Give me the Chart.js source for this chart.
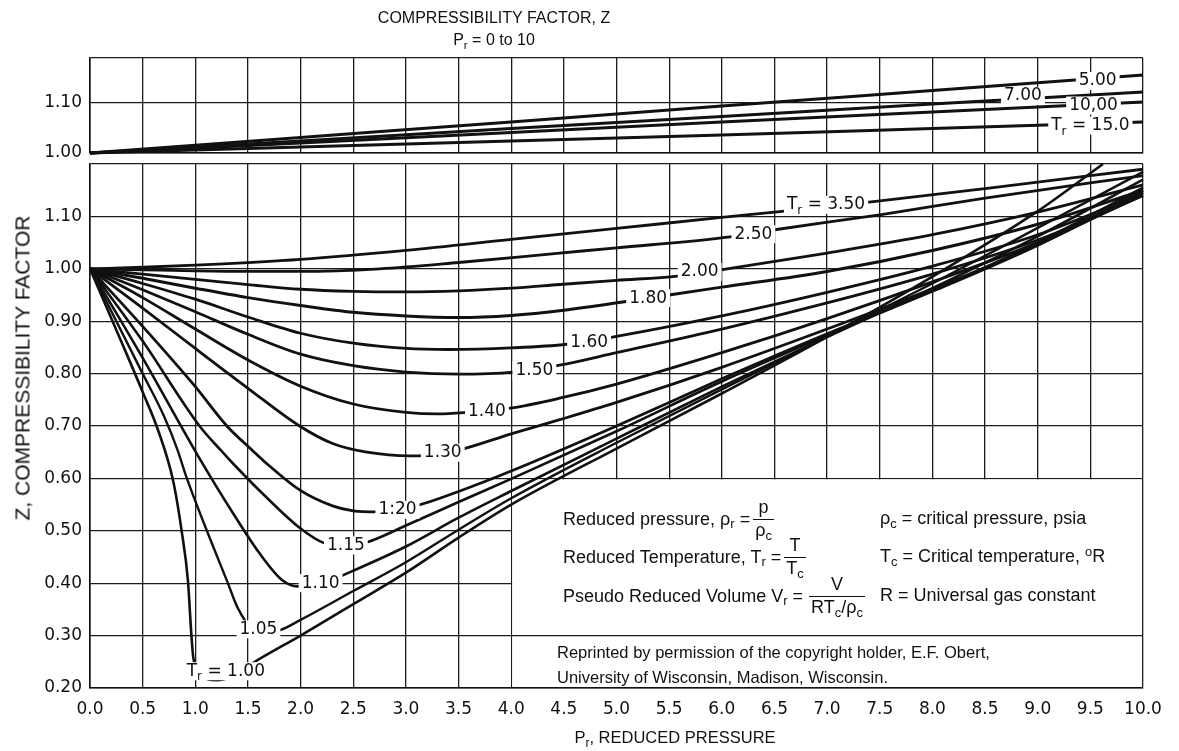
<!DOCTYPE html>
<html>
<head>
<meta charset="utf-8">
<script src="https://cdn.jsdelivr.net/npm/chart.js@4.4.1/dist/chart.umd.min.js"></script>
<style>
html,body{margin:0;padding:0;background:#fff}
body{width:1179px;height:751px;position:relative;overflow:hidden;font-family:'Liberation Sans',Arial,sans-serif;color:#111}
canvas{position:absolute;left:0}
.txt{position:absolute;white-space:nowrap;line-height:1}
.sub{font-size:0.72em;position:relative;top:0.32em}
.sup{font-size:0.72em;position:relative;top:-0.45em}
.row{position:absolute;height:44px;display:flex;align-items:center;white-space:nowrap;font-size:18px}
.frac{display:inline-flex;flex-direction:column;align-items:center;line-height:1.1;margin-left:3px}
.frac .num{padding:0 2px 1px}
.frac .den{border-top:1.3px solid #111;padding:1px 2px 0}
</style>
</head>
<body>
<canvas id="topChart" width="1179" height="170" style="top:0"></canvas>
<canvas id="mainChart" width="1179" height="599" style="top:152px"></canvas>

<div class="txt" style="left:494px;top:10px;transform:translateX(-50%);font-size:16px">COMPRESSIBILITY FACTOR, Z</div>
<div class="txt" style="left:494px;top:32px;transform:translateX(-50%);font-size:16px">P<span class="sub">r</span> = 0 to 10</div>
<div class="txt" style="left:22px;top:368px;transform:translate(-50%,-50%) rotate(-90deg);font-size:21px">Z, COMPRESSIBILITY FACTOR</div>
<div class="txt" style="left:675px;top:729px;transform:translateX(-50%);font-size:16.5px">P<span class="sub">r</span>, REDUCED PRESSURE</div>

<div class="row" style="left:563px;top:497px">Reduced pressure, ρ<span class="sub">r</span>&nbsp;=<span class="frac"><span class="num">p</span><span class="den">ρ<span class="sub">c</span></span></span></div>
<div class="row" style="left:563px;top:535px">Reduced Temperature, T<span class="sub">r</span>&nbsp;=<span class="frac"><span class="num">T</span><span class="den">T<span class="sub">c</span></span></span></div>
<div class="row" style="left:563px;top:574px">Pseudo Reduced Volume V<span class="sub">r</span>&nbsp;=<span class="frac" style="margin-left:6px"><span class="num">V</span><span class="den">RT<span class="sub">c</span>/ρ<span class="sub">c</span></span></span></div>
<div class="txt" style="left:880px;top:509px;font-size:18px">ρ<span class="sub">c</span> = critical pressure, psia</div>
<div class="txt" style="left:880px;top:547px;font-size:18px">T<span class="sub">c</span> = Critical temperature, <span class="sup">o</span>R</div>
<div class="txt" style="left:880px;top:586px;font-size:18px">R = Universal gas constant</div>
<div class="txt" style="left:557px;top:644px;font-size:16.5px">Reprinted by permission of the copyright holder, E.F. Obert,</div>
<div class="txt" style="left:557px;top:669px;font-size:16.5px">University of Wisconsin, Madison, Wisconsin.</div>

<script>
// ---------- tick values / labels ----------
const xTickVals = [0.0,0.5,1.0,1.5,2.0,2.5,3.0,3.5,4.0,4.5,5.0,5.5,6.0,6.5,7.0,7.5,8.0,8.5,9.0,9.5,10.0];
const xTickLabels = ['0.0','0.5','1.0','1.5','2.0','2.5','3.0','3.5','4.0','4.5','5.0','5.5','6.0','6.5','7.0','7.5','8.0','8.5','9.0','9.5','10.0'];
const yTickValsTop = [1.00,1.10,1.19];
const yTickLabelsTop = ['1.00','1.10',''];
const yTickValsMain = [0.2,0.3,0.4,0.5,0.6,0.7,0.8,0.9,1.0,1.1,1.2];
const yTickLabelsMain = ['0.20','0.30','0.40','0.50','0.60','0.70','0.80','0.90','1.00','1.10',''];

// ---------- top panel series  [Pr, Z] ----------
const tr5_00  = [[0,1.000],[2,1.031],[4,1.062],[6,1.094],[8,1.125],[10,1.156]];
const tr7_00  = [[0,1.000],[2,1.024],[4,1.049],[6,1.073],[8,1.098],[10,1.122]];
const tr10_00 = [[0,1.000],[2,1.020],[4,1.041],[6,1.062],[8,1.082],[10,1.102]];
const tr15_0  = [[0,1.000],[2,1.012],[4,1.024],[6,1.036],[8,1.049],[10,1.062]];

// ---------- main panel series  [Pr, Z] ----------
const tr3_50 = [[0,1.000],[0.5,1.003],[1,1.007],[2,1.018],[3,1.035],[4,1.056],[5,1.077],[6,1.098],[6.55,1.109],[7.44,1.128],[8.5,1.153],[10,1.190]];
const tr2_50 = [[0,1.000],[0.5,0.998],[1,0.996],[1.5,0.995],[2,0.995],[2.75,1.000],[3.5,1.012],[4.46,1.030],[5,1.040],[6.08,1.061],[6.52,1.075],[7.5,1.103],[8.5,1.135],[10,1.178]];
const tr2_00 = [[0,1.000],[0.5,0.990],[1,0.980],[1.5,0.970],[2,0.961],[2.5,0.957],[3,0.956],[3.5,0.958],[4,0.963],[4.46,0.970],[5,0.978],[5.58,0.986],[6.05,1.000],[7,1.030],[8,1.065],[9,1.108],[10,1.160]];
const tr1_80 = [[0,1.000],[0.5,0.982],[1,0.963],[1.5,0.945],[2,0.930],[2.5,0.917],[3,0.910],[3.5,0.907],[4,0.911],[4.5,0.921],[5.1,0.938],[5.53,0.951],[6,0.965],[7,0.995],[8,1.035],[9,1.085],[10,1.150]];
const tr1_60 = [[0,1.000],[0.5,0.972],[1,0.942],[1.5,0.908],[2,0.877],[2.5,0.858],[3,0.848],[3.4,0.846],[4,0.849],[4.53,0.856],[5,0.871],[6,0.910],[7,0.955],[8,1.005],[9,1.065],[10,1.145]];
const tr1_50 = [[0,1.000],[0.5,0.960],[1,0.918],[1.5,0.875],[2,0.837],[2.5,0.815],[3,0.803],[3.5,0.799],[4.02,0.803],[4.46,0.816],[5,0.840],[6,0.885],[7,0.935],[8,0.990],[9,1.055],[10,1.140]];
const tr1_40 = [[0,1.000],[0.5,0.945],[1,0.885],[1.5,0.826],[2,0.776],[2.5,0.742],[3,0.726],[3.3,0.723],[3.58,0.726],[3.99,0.734],[4.46,0.753],[5,0.780],[6,0.840],[7,0.905],[8,0.975],[9,1.050],[10,1.140]];
const tr1_30 = [[0,1.000],[0.5,0.925],[1,0.848],[1.5,0.772],[1.99,0.700],[2.31,0.666],[2.63,0.650],[3.04,0.643],[3.3,0.646],[3.54,0.656],[4,0.685],[4.46,0.712],[5,0.745],[6,0.812],[7,0.885],[8,0.962],[9,1.045],[10,1.145]];
const tr1_20 = [[0,1.000],[0.5,0.890],[1,0.775],[1.3,0.700],[1.55,0.652],[1.68,0.628],[1.99,0.578],[2.31,0.547],[2.5,0.538],[2.72,0.536],[3.1,0.548],[3.5,0.575],[4,0.614],[5,0.700],[6,0.790],[7,0.876],[8,0.957],[9,1.045],[10,1.150]];
const tr1_15 = [[0,1.000],[0.5,0.862],[1.04,0.700],[1.25,0.652],[1.36,0.628],[1.68,0.563],[1.99,0.506],[2.23,0.476],[2.45,0.470],[2.63,0.478],[3,0.510],[3.5,0.555],[4,0.599],[5,0.690],[6,0.785],[7,0.873],[8,0.958],[9,1.050],[10,1.155]];
const tr1_10 = [[0,1.000],[0.5,0.830],[0.85,0.705],[1.02,0.645],[1.36,0.533],[1.61,0.457],[1.83,0.405],[1.97,0.394],[2.2,0.398],[2.4,0.415],[3,0.470],[3.5,0.525],[4,0.576],[5,0.676],[6,0.775],[7,0.870],[8,0.963],[9,1.062],[10,1.170]];
const tr1_05 = [[0,1.000],[0.5,0.800],[0.7,0.720],[0.83,0.655],[0.92,0.600],[1.11,0.500],[1.30,0.405],[1.41,0.350],[1.6,0.305],[1.8,0.310],[2,0.330],[2.5,0.385],[3,0.440],[3.5,0.502],[4,0.562],[5,0.668],[6,0.770],[7,0.870],[8,0.972],[9,1.078],[10,1.185]];
const tr1_00 = [[0,1.000],[0.3,0.860],[0.5,0.765],[0.65,0.690],[0.79,0.595],[0.87,0.500],[0.93,0.405],[0.96,0.310],[0.98,0.260],[1.05,0.225],[1.2,0.215],[1.35,0.222],[1.59,0.253],[2,0.300],[2.5,0.360],[3,0.420],[3.5,0.487],[4,0.550],[5,0.657],[6,0.762],[7,0.870],[8,0.985],[9,1.110],[9.62,1.200]];

// ---------- curve labels (text anchored at Pr, Z) ----------
const topLabels = [
  {text:'5.00', pr:9.57, z:1.144},
  {text:'7.00', pr:8.86, z:1.114},
  {text:'10,00', pr:9.53, z:1.095},
  {text:'T_r = 15.0', pr:9.50, z:1.055}
];
const mainLabels = [
  {text:'T_r = 3.50', pr:6.99, z:1.122},
  {text:'2.50', pr:6.30, z:1.066},
  {text:'2.00', pr:5.79, z:0.994},
  {text:'1.80', pr:5.30, z:0.944},
  {text:'1.60', pr:4.74, z:0.860},
  {text:'1.50', pr:4.22, z:0.806},
  {text:'1.40', pr:3.77, z:0.728},
  {text:'1.30', pr:3.35, z:0.649},
  {text:'1:20', pr:2.92, z:0.540},
  {text:'1.15', pr:2.43, z:0.472},
  {text:'1.10', pr:2.19, z:0.400},
  {text:'1.05', pr:1.60, z:0.312},
  {text:'T_r = 1.00', pr:1.29, z:0.232}
];
// info box region (data units)
const boxPr = [4.0, 10.0];
const boxZ = [0.2, 0.6];
const boxLineZ = 0.3;

// ---------- helpers ----------
const INK = '#111';
const GRID = '#1c1c1c';
function toPts(a){ return a.map(p => ({x:p[0], y:p[1]})); }
function ds(a, w){ return {data: toPts(a), borderColor: INK, borderWidth: w, pointRadius: 0, fill: false, cubicInterpolationMode: 'monotone', clip: 2}; }

function parseLabel(t){
  const segs = []; let i = 0, cur = '';
  while (i < t.length){
    if (t[i] === '_'){ if (cur) segs.push({t:cur, sub:false}); cur=''; segs.push({t:t[i+1], sub:true}); i += 2; }
    else { cur += t[i]; i++; }
  }
  if (cur) segs.push({t:cur, sub:false});
  return segs;
}

const curveLabels = {
  id: 'curveLabels',
  afterDatasetsDraw(chart, args, opts){
    const {ctx} = chart; const x = chart.scales.x, y = chart.scales.y;
    ctx.save();
    const mainFont = '17px "DejaVu Sans"', subFont = '12px "DejaVu Sans"';
    for (const L of opts.items){
      const px = x.getPixelForValue(L.pr), py = y.getPixelForValue(L.z);
      const segs = parseLabel(L.text);
      let w = 0;
      for (const s of segs){ ctx.font = s.sub ? subFont : mainFont; s.w = ctx.measureText(s.t).width; w += s.w; }
      ctx.fillStyle = '#fff';
      ctx.fillRect(px - w/2 - 3, py - 9, w + 6, 18);
      let cx = px - w/2;
      ctx.fillStyle = INK; ctx.textBaseline = 'middle'; ctx.textAlign = 'left';
      for (const s of segs){ ctx.font = s.sub ? subFont : mainFont; ctx.fillText(s.t, cx, s.sub ? py + 6 : py); cx += s.w; }
    }
    ctx.restore();
  }
};

const infoBox = {
  id: 'infoBox',
  beforeDatasetsDraw(chart, args, opts){
    if (!opts.enabled) return;
    const {ctx} = chart; const x = chart.scales.x, y = chart.scales.y;
    const x0 = x.getPixelForValue(boxPr[0]), x1 = x.getPixelForValue(boxPr[1]);
    const y0 = y.getPixelForValue(boxZ[1]), y1 = y.getPixelForValue(boxZ[0]);
    ctx.save();
    ctx.fillStyle = '#fff';
    ctx.fillRect(x0 + 1, y0 + 1, x1 - x0 - 2, y1 - y0 - 2);
    const yl = y.getPixelForValue(boxLineZ);
    ctx.strokeStyle = GRID; ctx.lineWidth = 1.3;
    ctx.beginPath(); ctx.moveTo(x0, yl); ctx.lineTo(x1, yl); ctx.stroke();
    ctx.restore();
  }
};

function xAxis(showLabels, h){
  return {
    type: 'linear', min: 0, max: 10,
    afterBuildTicks(s){ s.ticks = xTickVals.map(v => ({value: v})); },
    ticks: {display: showLabels, autoSkip: false, maxRotation: 0, padding: 11, color: INK,
      font: {family: 'DejaVu Sans', size: 17}, callback: (v, i) => xTickLabels[i]},
    grid: {color: GRID, lineWidth: 1.3, drawTicks: false},
    border: {color: INK, width: 1.6},
    afterFit(s){ s.height = h; }
  };
}
function yAxis(min, max, vals, labels){
  return {
    type: 'linear', min: min, max: max,
    afterBuildTicks(s){ s.ticks = vals.map(v => ({value: v})); },
    ticks: {autoSkip: false, padding: 8, color: INK, font: {family: 'DejaVu Sans', size: 17, lineHeight: 0.05},
      callback: (v, i) => labels[i]},
    grid: {color: GRID, lineWidth: 1.3, drawTicks: false},
    border: {color: INK, width: 1.6},
    afterFit(s){ s.width = 90; }
  };
}

const common = {
  responsive: false, animation: false, events: [],
  plugins: {legend: {display: false}, tooltip: {enabled: false}}
};

function pin(chart, top, bottom){
  for (let i = 0; i < 5; i++){
    const a = chart.chartArea, p = chart.options.layout.padding;
    const dt = top - a.top, db = a.bottom - bottom;
    if (Math.abs(dt) < 0.3 && Math.abs(db) < 0.3) break;
    p.top = Math.max(0, p.top + dt); p.bottom = Math.max(0, p.bottom + db);
    chart.update();
  }
}

const topChart = new Chart(document.getElementById('topChart'), {
  type: 'line',
  data: {datasets: [ds(tr5_00, 3), ds(tr7_00, 3), ds(tr10_00, 3), ds(tr15_0, 3)]},
  options: Object.assign({}, common, {
    layout: {padding: {top: 58, right: 36, left: 0, bottom: 17}},
    scales: {x: xAxis(false, 0), y: yAxis(1.0, 1.19, yTickValsTop, yTickLabelsTop)},
    plugins: Object.assign({}, common.plugins, {curveLabels: {items: topLabels}, infoBox: {enabled: false}})
  }),
  plugins: [curveLabels, infoBox]
});
pin(topChart, 58, 153);

const mainChart = new Chart(document.getElementById('mainChart'), {
  type: 'line',
  data: {datasets: [
    ds(tr3_50, 2.8), ds(tr2_50, 2.8), ds(tr2_00, 2.8), ds(tr1_80, 3), ds(tr1_60, 2.8), ds(tr1_50, 2.8),
    ds(tr1_40, 2.8), ds(tr1_30, 2.8), ds(tr1_20, 2.8), ds(tr1_15, 2.6), ds(tr1_10, 2.6), ds(tr1_05, 2.4), ds(tr1_00, 2.6)
  ]},
  options: Object.assign({}, common, {
    layout: {padding: {top: 12, right: 36, left: 0, bottom: 13}},
    scales: {x: xAxis(true, 50), y: yAxis(0.2, 1.2, yTickValsMain, yTickLabelsMain)},
    plugins: Object.assign({}, common.plugins, {curveLabels: {items: mainLabels}, infoBox: {enabled: true}})
  }),
  plugins: [curveLabels, infoBox]
});
pin(mainChart, 12, 536);
</script>
</body>
</html>
